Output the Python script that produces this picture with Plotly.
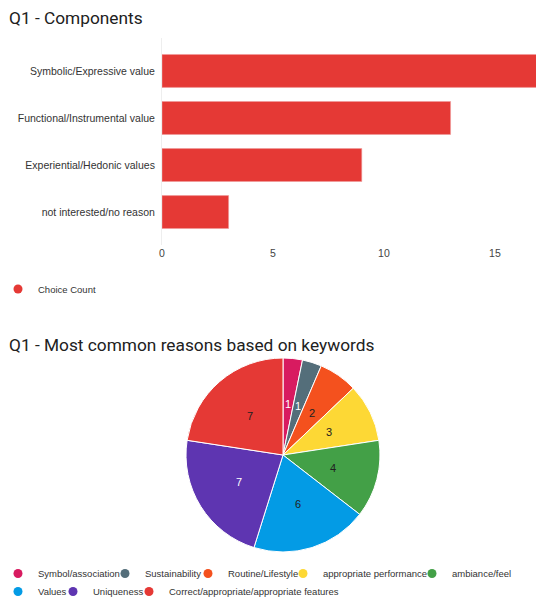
import math
import plotly.graph_objects as go

# ---- data ----
bar_categories = ["Symbolic/Expressive value", "Functional/Instrumental value",
                  "Experiential/Hedonic values", "not interested/no reason"]
bar_values = [17, 13, 9, 3]
bar_series_name = "Choice Count"

pie_labels = ["Symbol/association", "Sustainability", "Routine/Lifestyle",
              "appropriate performance", "ambiance/feel", "Values", "Uniqueness",
              "Correct/appropriate/appropriate features"]
pie_values = [1, 1, 2, 3, 4, 6, 7, 7]

x_ticks = [0, 5, 10, 15]

# ---- styles ----
BAR_COLOR = "#E53935"
pie_colors = ["#D81B60", "#546E7A", "#F4511E", "#FDD835", "#43A047",
              "#039BE5", "#5E35B1", "#E53935"]
pie_text_colors = ["#ffffff", "#ffffff", "#212121", "#212121", "#212121",
                   "#212121", "#ffffff", "#212121"]
FONT = "Liberation Sans, Arial, sans-serif"
TITLE_FONT = "Roboto, Liberation Sans, sans-serif"
LABEL_RADIUS = 0.53  # fraction of the pie radius where slice values are written

W, H = 536, 599


def py(px):
    return 1 - px / H


def pxx(px):
    return px / W


# legend circle positions (pixel) for each pie legend entry
pie_legend_pos = [(24, 573.5), (131, 573.5), (214, 573.5), (309, 573.5), (438, 573.5),
                  (24, 591.5), (79, 591.5), (155, 591.5)]
LEG_SHIFT = 26  # legend left edge relative to the wanted circle centre

PIE_BOX = (186, 357, 380, 553)  # left, top, right, bottom in pixels
pie_domain = dict(x=[pxx(PIE_BOX[0]), pxx(PIE_BOX[2])], y=[py(PIE_BOX[3]), py(PIE_BOX[1])])
pie_cx = (PIE_BOX[0] + PIE_BOX[2]) / 2.0
pie_cy = (PIE_BOX[1] + PIE_BOX[3]) / 2.0
pie_r = min(PIE_BOX[2] - PIE_BOX[0], PIE_BOX[3] - PIE_BOX[1]) / 2.0

fig = go.Figure()

fig.add_trace(go.Bar(
    x=bar_values, y=bar_categories, orientation="h",
    marker=dict(color=BAR_COLOR, line=dict(color="#EF9A9A", width=0.6)),
    showlegend=False, name=bar_series_name, hoverinfo="x+y",
))

# legend entry for the bar series (circle symbol)
fig.add_trace(go.Scatter(
    x=[None], y=[None], mode="markers", name=bar_series_name,
    marker=dict(color=BAR_COLOR, size=9, symbol="circle"),
    legend="legend", showlegend=True,
))

fig.add_trace(go.Pie(
    labels=pie_labels, values=pie_values, sort=False, direction="clockwise",
    rotation=0, textinfo="none",
    marker=dict(colors=pie_colors, line=dict(color="#ffffff", width=1)),
    domain=pie_domain,
    showlegend=False,
))

# slice value labels at the slice mid-angle (derived from the data)
total = float(sum(pie_values))
value_annotations = []
acc = 0.0
for v, tc in zip(pie_values, pie_text_colors):
    ang = math.radians((acc + v / 2.0) / total * 360.0)
    acc += v
    lx = pie_cx + LABEL_RADIUS * pie_r * math.sin(ang)
    ly = pie_cy - LABEL_RADIUS * pie_r * math.cos(ang)
    value_annotations.append(dict(
        text=str(v), x=pxx(lx), y=py(ly), xref="paper", yref="paper",
        xanchor="center", yanchor="middle", showarrow=False,
        font=dict(size=11, color=tc, family=FONT)))

legend_common = dict(orientation="h", xanchor="left", yanchor="middle",
                     font=dict(size=9.5, color="#333333", family=FONT),
                     itemwidth=30, bgcolor="rgba(0,0,0,0)", borderwidth=0)

layout_legends = {}
for i, (lab, col) in enumerate(zip(pie_labels, pie_colors)):
    lname = "legend%d" % (i + 2)
    fig.add_trace(go.Scatter(
        x=[None], y=[None], mode="markers", name=lab,
        marker=dict(color=col, size=9, symbol="circle"),
        legend=lname, showlegend=True,
    ))
    cx, cy = pie_legend_pos[i]
    layout_legends[lname] = dict(legend_common, x=pxx(cx - LEG_SHIFT), y=py(cy))

fig.update_layout(
    width=W, height=H,
    margin=dict(l=0, r=0, t=0, b=0, autoexpand=False),
    paper_bgcolor="white", plot_bgcolor="white",
    font=dict(family=FONT, color="#333333"),
    bargap=0.3,
    xaxis=dict(domain=[pxx(162), 1], range=[0, 16.85], tickvals=x_ticks,
               showgrid=False, zeroline=False, showline=False, ticks="",
               automargin=False,
               tickfont=dict(size=10.5, color="#444444"), fixedrange=True),
    yaxis=dict(domain=[py(245), py(38)], range=[3.7, -0.7],
               categoryorder="array", categoryarray=bar_categories,
               showgrid=False, zeroline=False, showline=True,
               linecolor="#EEEEEE", linewidth=1, ticks="",
               ticklabelstandoff=4, automargin=False, fixedrange=True,
               tickfont=dict(size=10.5, color="#333333")),
    legend=dict(legend_common, x=pxx(24 - LEG_SHIFT), y=py(289)),
    annotations=[
        dict(text="Q1 - Components", x=pxx(7), y=py(18), xref="paper", yref="paper",
             xanchor="left", yanchor="middle", showarrow=False,
             font=dict(size=17.3, color="#212121", family=TITLE_FONT)),
        dict(text="Q1 - Most common reasons based on keywords", x=pxx(7), y=py(345),
             xref="paper", yref="paper", xanchor="left", yanchor="middle",
             showarrow=False, font=dict(size=17.3, color="#212121", family=TITLE_FONT)),
    ] + value_annotations,
    **layout_legends,
)

fig.write_html(
    "out.html",
    config={"displayModeBar": False},
    post_script="document.body.style.margin='0';document.body.style.overflow='hidden';",
)
